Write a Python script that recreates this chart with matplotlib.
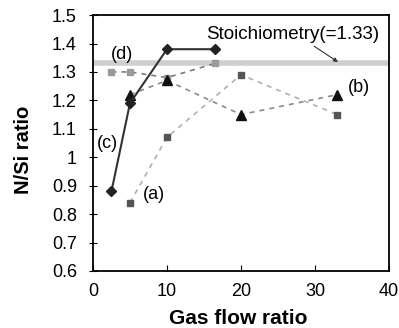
import matplotlib
matplotlib.use("Agg")
import matplotlib.pyplot as plt

plt.rcParams["font.family"] = ["Liberation Sans", "DejaVu Sans"]

# series (c): solid line, diamonds
c_x = [2.5, 5, 10, 16.5]
c_y = [0.88, 1.19, 1.38, 1.38]
# series (a): dark squares
a_x = [5, 10, 20, 33]
a_y = [0.84, 1.07, 1.29, 1.15]
# series (b): triangles
b_x = [5, 10, 20, 33]
b_y = [1.22, 1.27, 1.15, 1.22]
# series (d): light squares
d_x = [2.5, 5, 10, 16.5]
d_y = [1.30, 1.30, 1.28, 1.33]

STOICH = 1.33

fig = plt.figure(figsize=(3.99, 3.28), dpi=100)
ax = fig.add_axes([0.233, 0.174, 0.742, 0.78])

ax.axhline(STOICH, color="#cfcfcf", lw=4, zorder=1)

ax.plot(a_x, a_y, ls=(0, (3, 3)), color="#b0b0b0", lw=1.2,
        marker="s", ms=5, mfc="#555555", mec="#555555", zorder=3)
ax.plot(d_x, d_y, ls=(0, (3, 3)), color="#7a7a7a", lw=1.2,
        marker="s", ms=5, mfc="#9a9a9a", mec="#9a9a9a", zorder=3)
ax.plot(b_x, b_y, ls=(0, (3, 3)), color="#8a8a8a", lw=1.2,
        marker="^", ms=6.5, mfc="#111111", mec="#111111", zorder=4)
ax.plot(c_x, c_y, ls="-", color="#333333", lw=1.5,
        marker="D", ms=4.8, mfc="#222222", mec="#222222", zorder=5)

ax.text(3.9, 1.36, "(d)", fontsize=13, ha="center", va="center")
ax.text(2.0, 1.047, "(c)", fontsize=13, ha="center", va="center")
ax.text(8.2, 0.87, "(a)", fontsize=13, ha="center", va="center")
ax.text(35.9, 1.247, "(b)", fontsize=13, ha="center", va="center")

ax.annotate("Stoichiometry(=1.33)", xy=(33.1, 1.335), xytext=(15.3, 1.43),
            fontsize=13.5, ha="left", va="center",
            arrowprops=dict(arrowstyle="-|>", color="#333333", lw=0.8,
                            mutation_scale=6, shrinkA=0, shrinkB=0,
                            relpos=(0.6, 0.0)))

ax.set_xlim(0, 40)
ax.set_ylim(0.6, 1.5)
ax.set_xticks([0, 10, 20, 30, 40])
ax.set_yticks([0.6, 0.7, 0.8, 0.9, 1.0, 1.1, 1.2, 1.3, 1.4, 1.5])
ax.set_yticklabels(["0.6", "0.7", "0.8", "0.9", "1", "1.1", "1.2",
                    "1.3", "1.4", "1.5"])
ax.tick_params(axis="x", direction="in", length=4, labelsize=13, pad=9)
ax.tick_params(axis="y", direction="inout", length=6, labelsize=13, pad=8.5)
for s in ax.spines.values():
    s.set_linewidth(1.3)

fig.text(0.598, 0.030, "Gas flow ratio", fontsize=15, fontweight="bold",
         ha="center", va="center")
fig.text(0.058, 0.543, "N/Si ratio", fontsize=14.5, fontweight="bold",
         ha="center", va="center", rotation=90)

fig.savefig("out.png", dpi=100)
